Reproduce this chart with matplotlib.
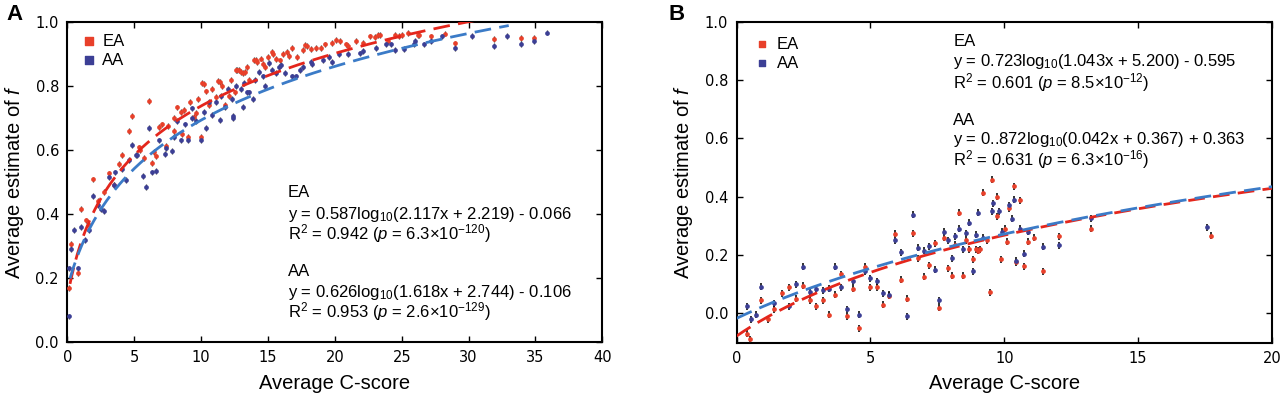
import matplotlib
matplotlib.use("Agg")
import matplotlib.pyplot as plt
import numpy as np

plt.rcParams['font.family'] = ['Liberation Sans', 'DejaVu Sans']
plt.rcParams['mathtext.fontset'] = 'custom'
plt.rcParams['mathtext.rm'] = 'Liberation Sans'
plt.rcParams['mathtext.it'] = 'Liberation Sans:italic'

# ---- panel A data (average C-score, average estimate of f) ----
a_ea_x = [0.1, 0.27, 0.77, 1.0, 1.4, 1.64, 1.9, 2.3, 2.76, 3.08, 3.5, 3.88, 4.08, 4.58, 4.83,
          5.37, 5.4, 5.7, 6.07, 6.3, 6.5, 6.65, 6.87, 7.1, 7.35, 7.5, 7.95, 8.0, 8.23, 8.5, 8.6,
          8.73, 9.0, 9.2, 9.48, 9.65, 9.8, 10.0, 10.1, 10.22, 10.35, 10.6, 10.8, 11.1, 11.3,
          11.4, 11.6, 11.8, 12.1, 12.2, 12.5, 12.6, 12.7, 12.8, 13.0, 13.1, 13.3, 13.4, 13.6,
          13.96, 14.1, 14.2, 14.45, 14.6, 14.8, 15.0, 15.3, 15.4, 15.6, 15.9, 16.1, 16.4, 16.6,
          16.8, 17.2, 17.6, 17.8, 17.9, 18.2, 18.6, 19.0, 19.3, 19.8, 20.05, 20.4, 20.8, 21.0,
          21.6, 22.1, 22.6, 23.0, 23.2, 23.4, 24.0, 24.5, 24.8, 25.0, 25.5, 26.2, 26.3, 27.2,
          28.25, 29.0, 31.9, 33.9, 34.9]
a_ea_y = [0.168, 0.306, 0.215, 0.415, 0.38, 0.365, 0.508, 0.44, 0.47, 0.527, 0.49, 0.556, 0.584,
          0.66, 0.706, 0.608, 0.6, 0.575, 0.753, 0.56, 0.595, 0.58, 0.673, 0.68, 0.612, 0.675,
          0.66, 0.70, 0.733, 0.72, 0.65, 0.725, 0.64, 0.75, 0.704, 0.715, 0.76, 0.64, 0.81,
          0.806, 0.783, 0.74, 0.79, 0.767, 0.815, 0.813, 0.80, 0.74, 0.77, 0.82, 0.78, 0.85,
          0.85, 0.85, 0.845, 0.84, 0.845, 0.86, 0.82, 0.881, 0.881, 0.875, 0.886, 0.87, 0.86,
          0.89, 0.907, 0.90, 0.885, 0.88, 0.90, 0.907, 0.895, 0.92, 0.89, 0.9125, 0.928, 0.925,
          0.915, 0.92, 0.92, 0.93, 0.935, 0.944, 0.94, 0.93, 0.925, 0.94, 0.935, 0.955, 0.954,
          0.96, 0.96, 0.94, 0.96, 0.956, 0.96, 0.966, 0.96, 0.96, 0.955, 0.964, 0.933, 0.946,
          0.95, 0.95]
a_aa_x = [0.1, 0.15, 0.27, 0.52, 0.77, 1.0, 1.35, 1.64, 1.9, 2.26, 2.5, 2.75, 3.1, 3.5, 3.6, 4.1,
          4.38, 4.63, 4.83, 5.1, 5.2, 5.62, 5.87, 6.07, 6.3, 6.65, 6.87, 7.3, 7.35, 7.8, 7.95,
          8.23, 8.5, 8.8, 9.0, 9.3, 9.35, 9.6, 10.0, 10.2, 10.4, 10.6, 10.85, 11.1, 11.45, 11.5,
          11.8, 12.0, 12.3, 12.35, 12.4, 12.6, 13.0, 13.1, 13.2, 13.4, 13.6, 13.9, 14.0, 14.3,
          14.6, 14.8, 15.1, 15.3, 15.6, 15.8, 16.0, 16.3, 16.8, 17.1, 17.4, 17.6, 18.2, 18.3,
          19.1, 19.55, 19.8, 20.3, 21.0, 21.9, 22.1, 23.1, 23.8, 24.2, 24.5, 25.2, 25.9, 26.0,
          26.7, 27.2, 28.0, 29.0, 30.25, 31.9, 32.9, 33.9, 34.9, 35.85]
a_aa_y = [0.08, 0.23, 0.29, 0.35, 0.23, 0.36, 0.32, 0.35, 0.456, 0.428, 0.415, 0.41, 0.515, 0.49,
          0.53, 0.54, 0.506, 0.569, 0.616, 0.585, 0.585, 0.519, 0.485, 0.67, 0.53, 0.535, 0.63,
          0.587, 0.605, 0.597, 0.64, 0.69, 0.63, 0.68, 0.63, 0.70, 0.73, 0.69, 0.63, 0.72, 0.67,
          0.75, 0.71, 0.75, 0.695, 0.77, 0.733, 0.79, 0.76, 0.70, 0.706, 0.80, 0.79, 0.735, 0.81,
          0.78, 0.78, 0.76, 0.82, 0.845, 0.83, 0.80, 0.871, 0.85, 0.84, 0.86, 0.865, 0.84, 0.83,
          0.83, 0.85, 0.86, 0.875, 0.87, 0.88, 0.89, 0.875, 0.90, 0.90, 0.902, 0.91, 0.92, 0.93,
          0.93, 0.9125, 0.915, 0.93, 0.94, 0.93, 0.94, 0.955, 0.918, 0.956, 0.925, 0.957, 0.931,
          0.94, 0.967]
a_err = 0.009

# ---- panel B data ----
b_ea_x = [0.38, 0.51, 0.92, 1.16, 1.4, 1.7, 1.95, 2.22, 2.49, 2.75, 2.97, 3.23, 3.45, 3.68, 3.9,
          4.13, 4.34, 4.56, 4.78, 5.0, 5.25, 5.46, 5.68, 5.91, 6.13, 6.37, 6.58, 6.78, 7.0, 7.2,
          7.42, 7.57, 7.75, 7.9, 8.05, 8.17, 8.32, 8.45, 8.57, 8.67, 8.82, 8.93, 9.0, 9.1, 9.22,
          9.35, 9.47, 9.55, 9.71, 9.73, 9.88, 10.03, 10.1, 10.17, 10.37, 10.45, 10.6, 10.74,
          10.9, 11.1, 11.45, 12.05, 13.25, 17.73]
b_ea_y = [-0.07, -0.089, 0.045, -0.02, 0.015, 0.07, 0.09, 0.05, 0.095, 0.045, 0.025, 0.045,
          -0.005, 0.065, 0.135, -0.01, 0.085, -0.05, 0.16, 0.09, 0.09, 0.03, 0.06, 0.273, 0.115,
          0.05, 0.275, 0.19, 0.125, 0.165, 0.24, 0.02, 0.26, 0.155, 0.13, 0.235, 0.345, 0.13,
          0.25, 0.22, 0.185, 0.22, 0.215, 0.22, 0.413, 0.25, 0.073, 0.458, 0.333, 0.40, 0.185,
          0.29, 0.245, 0.36, 0.435, 0.175, 0.388, 0.162, 0.245, 0.26, 0.145, 0.264, 0.291, 0.267]
b_aa_x = [0.38, 0.55, 0.74, 0.92, 1.4, 1.95, 2.22, 2.49, 2.75, 2.97, 3.23, 3.45, 3.68, 3.9, 4.13,
          4.34, 4.56, 4.78, 5.0, 5.25, 5.46, 5.68, 5.91, 6.13, 6.37, 6.58, 6.78, 7.0, 7.2, 7.42,
          7.57, 7.75, 7.9, 8.05, 8.17, 8.32, 8.45, 8.57, 8.67, 8.82, 8.93, 9.0, 9.2, 9.53, 9.59,
          9.8, 9.93, 10.17, 10.27, 10.37, 10.45, 10.58, 10.74, 10.9, 11.45, 12.05, 13.25, 17.58]
b_aa_y = [0.025, -0.02, -0.005, 0.091, 0.035, 0.025, 0.1, 0.16, 0.075, 0.085, 0.08, 0.085, 0.16,
          0.09, 0.015, 0.11, -0.005, 0.145, 0.12, 0.11, 0.07, 0.065, 0.25, 0.21, -0.01, 0.338,
          0.225, 0.215, 0.23, 0.15, 0.045, 0.28, 0.25, 0.19, 0.265, 0.29, 0.22, 0.275, 0.31,
          0.145, 0.27, 0.345, 0.26, 0.35, 0.378, 0.35, 0.28, 0.37, 0.324, 0.39, 0.18, 0.29, 0.205,
          0.28, 0.228, 0.233, 0.327, 0.296]
b_err = 0.012

EA_COL = '#e8402a'
AA_COL = '#3c3f95'
EA_FIT = '#e4261c'
AA_FIT = '#3b7bc7'


def fit_a_ea(x):
    return 0.587 * np.log10(2.117 * x + 2.219) - 0.066


def fit_a_aa(x):
    return 0.626 * np.log10(1.618 * x + 2.744) - 0.106


def fit_b_ea(x):
    return 0.723 * np.log10(1.043 * x + 5.200) - 0.595


def fit_b_aa(x):
    return 0.872 * np.log10(0.042 * x + 0.367) + 0.363


def style_axes(ax):
    for s in ax.spines.values():
        s.set_linewidth(1.5)
    ax.tick_params(direction='in', top=True, right=True, length=4, width=1,
                   labelsize=10.5, pad=6)
    for lab in ax.get_xticklabels() + ax.get_yticklabels():
        lab.set_fontfamily('DejaVu Sans')
    ax.set_xlabel('Average C-score', fontsize=14.5, labelpad=6)
    ax.set_ylabel('Average estimate of $f$', fontsize=14.5, labelpad=7)


def add_block(ax, x0, ys, lines, fs):
    for y, s in zip(ys, lines):
        ax.text(x0, y, s, fontsize=fs, va='center', transform=ax.transAxes)


fig = plt.figure(figsize=(12.8, 3.97), dpi=100)
axA = fig.add_axes([0.0526, 0.1385, 0.418, 0.806])
axB = fig.add_axes([0.5754, 0.1368, 0.4184, 0.809])

# panel A
ek = dict(fmt='o', ms=3.4, capsize=1.8, elinewidth=0.9, capthick=0.9, ecolor='#333333',
          mew=0, zorder=3)
axA.errorbar(a_ea_x, a_ea_y, yerr=a_err, color=EA_COL, **ek)
axA.errorbar(a_aa_x, a_aa_y, yerr=a_err, color=AA_COL, **ek)
xs = np.linspace(0.2, 33, 300)
axA.plot(xs, fit_a_ea(xs), color=EA_FIT, lw=2, dashes=(6, 3), zorder=4)
axA.plot(xs, fit_a_aa(xs), color=AA_FIT, lw=2, dashes=(6, 3), zorder=4)
axA.set_xlim(0, 40)
axA.set_ylim(0, 1.0)
axA.set_xticks([0, 5, 10, 15, 20, 25, 30, 35, 40])
axA.set_yticks([0.0, 0.2, 0.4, 0.6, 0.8, 1.0])
axA.set_yticklabels(['0.0', '0.2', '0.4', '0.6', '0.8', '1.0'])
style_axes(axA)

axA.scatter([], [], marker='s', s=28, color=EA_COL, label='EA')
axA.scatter([], [], marker='s', s=28, color=AA_COL, label='AA')
axA.legend(loc='upper left', frameon=False, fontsize=12, handletextpad=0.2,
           borderaxespad=0.3, labelspacing=0.25, handlelength=1.2)

add_block(axA, 0.4125, [0.466, 0.40, 0.3375, 0.219, 0.156, 0.094],
          ['EA',
           r'y = 0.587log$_{10}$(2.117x + 2.219) - 0.066',
           r'R$^{2}$ = 0.942 ($p$ = 6.3×10$^{-120}$)',
           'AA',
           r'y = 0.626log$_{10}$(1.618x + 2.744) - 0.106',
           r'R$^{2}$ = 0.953 ($p$ = 2.6×10$^{-129}$)'], 12)

# panel B
ek2 = dict(fmt='o', ms=3.4, capsize=2.2, elinewidth=1.2, capthick=0.9, ecolor='#111111',
           mew=0, zorder=3)
axB.errorbar(b_ea_x, b_ea_y, yerr=b_err, color=EA_COL, **ek2)
axB.errorbar(b_aa_x, b_aa_y, yerr=b_err, color=AA_COL, **ek2)
xb = np.linspace(0, 20, 300)
axB.plot(xb, fit_b_ea(xb), color=EA_FIT, lw=2, dashes=(6, 3), zorder=4)
axB.plot(xb, fit_b_aa(xb), color=AA_FIT, lw=2, dashes=(6, 3), zorder=4)
axB.set_xlim(0, 20)
axB.set_ylim(-0.1, 1.0)
axB.set_xticks([0, 5, 10, 15, 20])
axB.set_yticks([0.0, 0.2, 0.4, 0.6, 0.8, 1.0])
axB.set_yticklabels(['0.0', '0.2', '0.4', '0.6', '0.8', '1.0'])
style_axes(axB)

axB.scatter([], [], marker='s', s=22, color=EA_COL, label='EA')
axB.scatter([], [], marker='s', s=22, color=AA_COL, label='AA')
axB.legend(loc='upper left', frameon=False, fontsize=12, handletextpad=0.3,
           borderaxespad=0.5, labelspacing=0.25, handlelength=1.2)

add_block(axB, 0.405, [0.937, 0.874, 0.809, 0.692, 0.634, 0.569],
          ['EA',
           r'y = 0.723log$_{10}$(1.043x + 5.200) - 0.595',
           r'R$^{2}$ = 0.601 ($p$ = 8.5×10$^{-12}$)',
           'AA',
           r'y = 0..872log$_{10}$(0.042x + 0.367) + 0.363',
           r'R$^{2}$ = 0.631 ($p$ = 6.3×10$^{-16}$)'], 12)

fig.text(0.005, 0.963, 'A', fontsize=16, fontweight='bold', va='center')
fig.text(0.522, 0.963, 'B', fontsize=16, fontweight='bold', va='center')

fig.savefig('out.png', dpi=100)
